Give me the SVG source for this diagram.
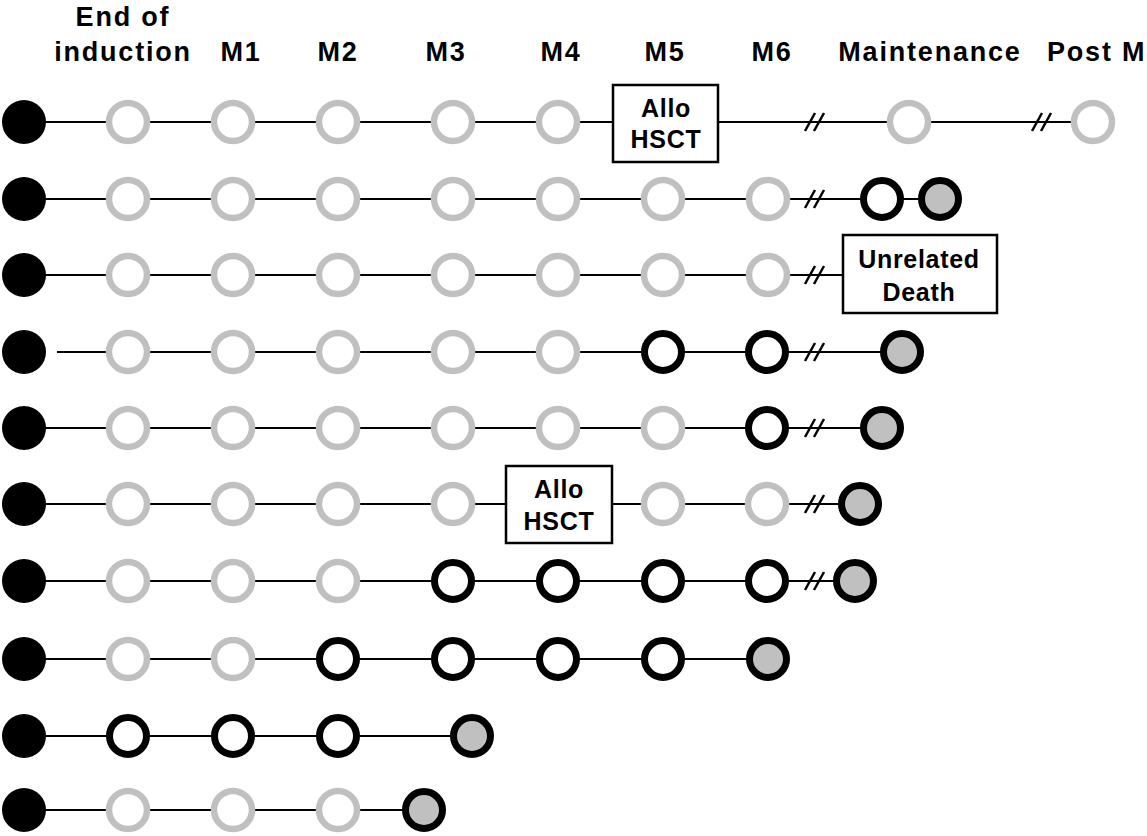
<svg xmlns="http://www.w3.org/2000/svg" width="1147" height="836" viewBox="0 0 1147 836">
<style>
.hdr{font-family:"Liberation Sans",Arial,sans-serif;font-weight:bold;font-size:27px;letter-spacing:1.8px;fill:#000}
.bx{font-family:"Liberation Sans",Arial,sans-serif;font-weight:bold;font-size:25px;letter-spacing:0.7px;fill:#000;text-anchor:middle}
.ln{stroke:#000;stroke-width:2.2;fill:none}
.brk{stroke:#000;stroke-width:2.5;fill:none}
.box{fill:#fff;stroke:#000;stroke-width:2.5}
.st{fill:#000}
.gr{fill:#fff;stroke:#c0c0c0;stroke-width:6.5}
.bk{fill:#fff;stroke:#000;stroke-width:7}
.en{fill:#c0c0c0;stroke:#000;stroke-width:7}
</style>
<defs>
<g id="brk"><line class="brk" x1="-10" y1="9" x2="0" y2="-9"/><line class="brk" x1="-1" y1="9" x2="9" y2="-9"/></g>
<circle id="S" class="st" r="22"/>
<circle id="G" class="gr" r="19"/>
<circle id="B" class="bk" r="18.5"/>
<circle id="E" class="en" r="18.5"/>
</defs>
<g id="headers">
<text class="hdr" x="123" y="26" text-anchor="middle">End of</text>
<text class="hdr" x="123" y="61" text-anchor="middle">induction</text>
<text class="hdr" x="241" y="61" text-anchor="middle">M1</text>
<text class="hdr" x="338" y="61" text-anchor="middle">M2</text>
<text class="hdr" x="446" y="61" text-anchor="middle">M3</text>
<text class="hdr" x="561" y="61" text-anchor="middle">M4</text>
<text class="hdr" x="665" y="61" text-anchor="middle">M5</text>
<text class="hdr" x="772" y="61" text-anchor="middle">M6</text>
<text class="hdr" x="930" y="61" text-anchor="middle">Maintenance</text>
<text class="hdr" x="1047" y="61">Post M</text>
</g>
<g id="connectors">
<line class="ln" x1="24" y1="122" x2="612" y2="122"/>
<line class="ln" x1="718" y1="122" x2="1092" y2="122"/>
<use href="#brk" x="815" y="122"/><use href="#brk" x="1042" y="122"/>
<line class="ln" x1="24" y1="199" x2="940" y2="199"/>
<use href="#brk" x="815" y="199"/>
<line class="ln" x1="24" y1="275" x2="843" y2="275"/>
<use href="#brk" x="815" y="275"/>
<line class="ln" x1="57" y1="352" x2="902" y2="352"/>
<use href="#brk" x="815" y="352"/>
<line class="ln" x1="24" y1="428" x2="882" y2="428"/>
<use href="#brk" x="815" y="428"/>
<line class="ln" x1="24" y1="504" x2="506" y2="504"/>
<line class="ln" x1="612" y1="504" x2="860" y2="504"/>
<use href="#brk" x="815" y="504"/>
<line class="ln" x1="24" y1="581" x2="855" y2="581"/>
<use href="#brk" x="815" y="581"/>
<line class="ln" x1="24" y1="659" x2="768" y2="659"/>
<line class="ln" x1="24" y1="736" x2="472" y2="736"/>
<line class="ln" x1="24" y1="810" x2="424" y2="810"/>
</g>
<g id="row1">
<use href="#S" x="24" y="122"/><use href="#G" x="128" y="122"/><use href="#G" x="233" y="122"/><use href="#G" x="338" y="122"/><use href="#G" x="453" y="122"/><use href="#G" x="558" y="122"/>
<g id="allo1"><rect class="box" x="613" y="85" width="105" height="77"/><text class="bx" x="666" y="117">Allo</text><text class="bx" x="666" y="148">HSCT</text></g>
<use href="#G" x="909" y="122"/><use href="#G" x="1093" y="122"/>
</g>
<g id="row2">
<use href="#S" x="24" y="199"/><use href="#G" x="128" y="199"/><use href="#G" x="233" y="199"/><use href="#G" x="338" y="199"/><use href="#G" x="453" y="199"/><use href="#G" x="558" y="199"/><use href="#G" x="663" y="199"/><use href="#G" x="768" y="199"/><use href="#B" x="882" y="199"/><use href="#E" x="940" y="199"/>
</g>
<g id="row3">
<use href="#S" x="24" y="275"/><use href="#G" x="128" y="275"/><use href="#G" x="233" y="275"/><use href="#G" x="338" y="275"/><use href="#G" x="453" y="275"/><use href="#G" x="558" y="275"/><use href="#G" x="663" y="275"/><use href="#G" x="768" y="275"/>
<g id="death"><rect class="box" x="843" y="235" width="154" height="78"/><text class="bx" x="919" y="268">Unrelated</text><text class="bx" x="919" y="301">Death</text></g>
</g>
<g id="row4">
<use href="#S" x="24" y="352"/><use href="#G" x="128" y="352"/><use href="#G" x="233" y="352"/><use href="#G" x="338" y="352"/><use href="#G" x="453" y="352"/><use href="#G" x="558" y="352"/><use href="#B" x="663" y="352"/><use href="#B" x="767" y="352"/><use href="#E" x="902" y="352"/>
</g>
<g id="row5">
<use href="#S" x="24" y="428"/><use href="#G" x="128" y="428"/><use href="#G" x="233" y="428"/><use href="#G" x="338" y="428"/><use href="#G" x="453" y="428"/><use href="#G" x="558" y="428"/><use href="#G" x="663" y="428"/><use href="#B" x="767" y="428"/><use href="#E" x="882" y="428"/>
</g>
<g id="row6">
<use href="#S" x="24" y="504"/><use href="#G" x="128" y="504"/><use href="#G" x="233" y="504"/><use href="#G" x="338" y="504"/><use href="#G" x="453" y="504"/>
<g id="allo2"><rect class="box" x="506" y="466" width="106" height="77"/><text class="bx" x="559" y="498">Allo</text><text class="bx" x="559" y="530">HSCT</text></g>
<use href="#G" x="663" y="504"/><use href="#G" x="767" y="504"/><use href="#E" x="860" y="504"/>
</g>
<g id="row7">
<use href="#S" x="24" y="581"/><use href="#G" x="128" y="581"/><use href="#G" x="233" y="581"/><use href="#G" x="338" y="581"/><use href="#B" x="453" y="581"/><use href="#B" x="558" y="581"/><use href="#B" x="663" y="581"/><use href="#B" x="767" y="581"/><use href="#E" x="855" y="581"/>
</g>
<g id="row8">
<use href="#S" x="24" y="659"/><use href="#G" x="128" y="659"/><use href="#G" x="233" y="659"/><use href="#B" x="338" y="659"/><use href="#B" x="453" y="659"/><use href="#B" x="558" y="659"/><use href="#B" x="663" y="659"/><use href="#E" x="768" y="659"/>
</g>
<g id="row9">
<use href="#S" x="24" y="736"/><use href="#B" x="128" y="736"/><use href="#B" x="233" y="736"/><use href="#B" x="338" y="736"/><use href="#E" x="472" y="736"/>
</g>
<g id="row10">
<use href="#S" x="24" y="810"/><use href="#G" x="128" y="810"/><use href="#G" x="233" y="810"/><use href="#G" x="338" y="810"/><use href="#E" x="424" y="810"/>
</g>
</svg>
